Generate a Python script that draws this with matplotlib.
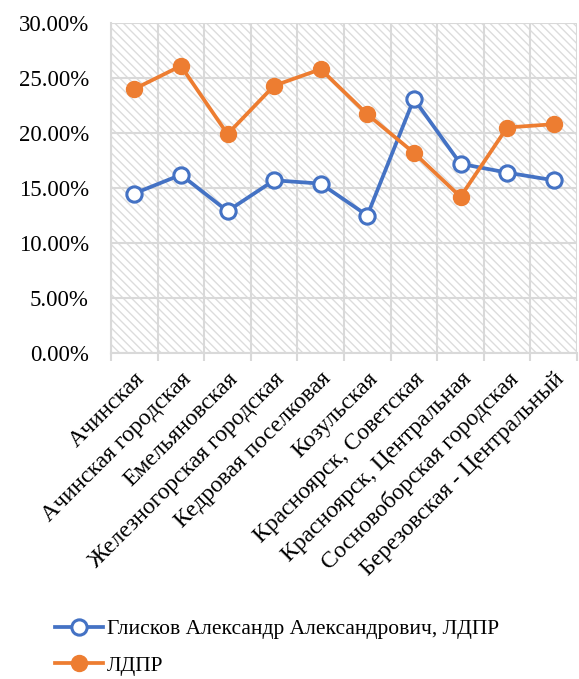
import matplotlib
matplotlib.use("Agg")
import matplotlib.pyplot as plt
from matplotlib.patches import Rectangle
from matplotlib.ticker import FuncFormatter, FixedLocator
import numpy as np

plt.rcParams['font.family'] = ['Liberation Serif', 'DejaVu Serif']
plt.rcParams['hatch.linewidth'] = 1.0

categories = ["Ачинская", "Ачинская городская", "Емельяновская",
              "Железногорская городская", "Кедровая поселковая", "Козульская",
              "Красноярск, Советская", "Красноярск, Центральная",
              "Сосновоборская городская", "Березовская - Центральный"]
gliskov = [14.5, 16.2, 12.9, 15.7, 15.4, 12.5, 23.1, 17.2, 16.4, 15.7]
ldpr = [24.0, 26.1, 19.9, 24.3, 25.8, 21.7, 18.2, 14.2, 20.5, 20.8]
series_names = ["Глисков Александр Александрович, ЛДПР", "ЛДПР"]
yticks = [0, 5, 10, 15, 20, 25, 30]

blue = '#4472C4'
orange = '#ED7D31'
grid = '#d9d9d9'

fig = plt.figure(figsize=(5.79, 6.79), dpi=100)
ax = fig.add_axes([111/579, 1-353/679, (577-111)/579, (353-23)/679])

bg = Rectangle((0, 0), 1, 1, transform=ax.transAxes, facecolor='white',
               edgecolor='#dcdcdc', hatch='\\\\\\\\', linewidth=0, zorder=0)
ax.add_patch(bg)

x = np.arange(len(categories))
ax.plot(x, gliskov, color=blue, lw=2.7, marker='o', ms=11, mfc='white',
        mec=blue, mew=2.2, label=series_names[0], zorder=3)
ax.plot(x, ldpr, color=orange, lw=2.7, marker='o', ms=11.5, mfc=orange,
        mec=orange, label=series_names[1], zorder=3)

ax.set_xlim(-0.5, len(categories) - 0.5)
ax.set_ylim(0, 30)
ax.set_yticks(yticks)
ax.yaxis.set_major_formatter(FuncFormatter(lambda v, p: f"{v:.2f}%"))
ax.set_xticks(x)
ax.set_xticklabels(categories, rotation=45, ha='right', rotation_mode='anchor',
                   fontsize=17)
ax.xaxis.set_minor_locator(FixedLocator(np.arange(-0.5, len(categories), 1.0)))
ax.tick_params(axis='x', which='major', length=0, pad=11)
ax.tick_params(axis='x', which='minor', length=6, color=grid, width=1.5)
ax.tick_params(axis='y', length=0, labelsize=16.5, pad=16)

ax.grid(True, axis='y', color=grid, lw=1.5, zorder=1)
ax.grid(True, axis='x', which='minor', color=grid, lw=1.5, zorder=1)
for s in ax.spines.values():
    s.set_visible(False)
ax.spines['left'].set_visible(True)
ax.spines['left'].set_color(grid)
ax.spines['left'].set_linewidth(1.5)
ax.spines['bottom'].set_visible(True)
ax.spines['bottom'].set_color(grid)
ax.spines['bottom'].set_linewidth(1.5)

leg = fig.legend(loc='upper left', bbox_to_anchor=(36/579, 1-600/679),
                 frameon=False, fontsize=15.5, handlelength=2.2,
                 labelspacing=0.75, handletextpad=0.2)

fig.savefig("out.png", dpi=100)
